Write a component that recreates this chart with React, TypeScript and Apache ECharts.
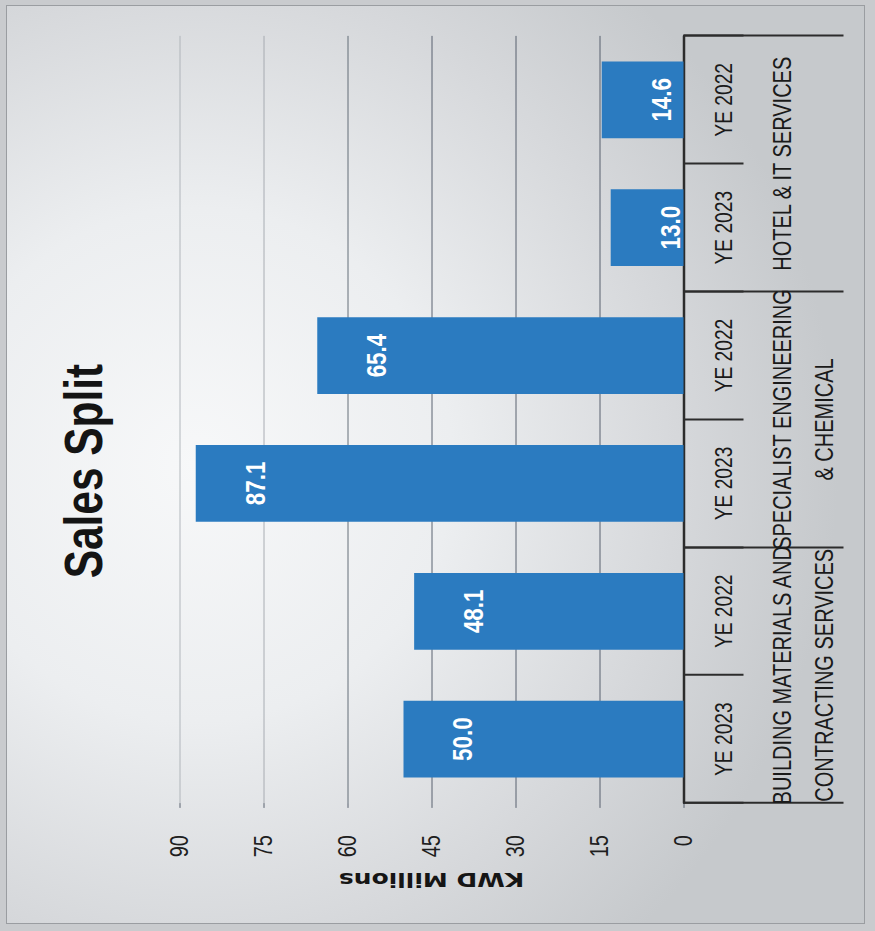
import React, { useEffect, useRef } from "react";
import * as echarts from "echarts";

const title = "Sales Split";
const yearLabels = ["YE 2023", "YE 2022", "YE 2023", "YE 2022", "YE 2023", "YE 2022"];
const groupLabels = [
  "BUILDING MATERIALS AND\nCONTRACTING SERVICES",
  "SPECIALIST ENGINEERING\n& CHEMICAL",
  "HOTEL & IT SERVICES",
];
const salesValues = [50.0, 48.1, 87.1, 65.4, 13.0, 14.6];
const axisTitle = "KWD Millions";
const valueMin = 0;
const valueMax = 90;
const valueStep = 15;

const CHART_W = 1164;
const CHART_H = 875;
const SQUEEZE = 0.8;

export default function App() {
  const ref = useRef<HTMLDivElement>(null);

  useEffect(() => {
    if (!ref.current) return;
    const chart = echarts.init(ref.current, null, { renderer: "svg" });
    const narrow = "'Liberation Sans Narrow', 'Liberation Sans', Arial, sans-serif";
    const sans = "'Liberation Sans', Arial, sans-serif";
    chart.setOption({
      animation: false,
      backgroundColor: "transparent",
      title: {
        text: title,
        left: 570,
        textAlign: "center",
        top: 52,
        textStyle: { fontFamily: sans, fontWeight: "bold", fontSize: 53, color: "#141414" },
      },
      grid: { left: 160, right: 45, top: 179, bottom: 192, containLabel: false },
      xAxis: [
        {
          type: "category",
          position: "bottom",
          data: yearLabels,
          axisLine: { show: true, lineStyle: { color: "#2c2c2c", width: 2.5 } },
          axisTick: { show: true, length: 60, lineStyle: { color: "#2c2c2c", width: 2.5 } },
          axisLabel: { interval: 0, margin: 28, fontFamily: sans, fontSize: 24, color: "#1a1a1a" },
        },
        {
          type: "category",
          position: "bottom",
          data: groupLabels,
          axisLine: { show: false },
          axisTick: { show: true, length: 160, lineStyle: { color: "#2c2c2c", width: 2.5 } },
          axisLabel: {
            interval: 0,
            margin: 78,
            fontFamily: narrow,
            fontSize: 25,
            lineHeight: 42,
            color: "#1a1a1a",
          },
        },
      ],
      yAxis: {
        type: "value",
        min: valueMin,
        max: valueMax,
        interval: valueStep,
        name: axisTitle,
        nameLocation: "middle",
        nameGap: 84,
        nameTextStyle: { fontFamily: "'DejaVu Sans', sans-serif", fontWeight: "bold", fontSize: 25, color: "#151515" },
        axisLine: { show: false },
        axisTick: { show: true, length: 6, lineStyle: { color: "#4a5462" } },
        axisLabel: { margin: 40, fontFamily: sans, fontSize: 25, color: "#1e1e1e" },
        splitLine: {
          show: true,
          lineStyle: {
            width: 1,
            color: ["#4a5462", "#4a5462", "#4a5462", "#4a5462", "#56606c", "#a0a5ac", "#aab0b6"],
          },
        },
      },
      series: [
        {
          type: "bar",
          xAxisIndex: 0,
          data: salesValues,
          barWidth: "60%",
          itemStyle: { color: "#2b7bc0" },
          label: {
            show: true,
            position: "insideTop",
            distance: 45,
            color: "#ffffff",
            fontFamily: narrow,
            fontWeight: "bold",
            fontSize: 28,
            formatter: (p: any) => Number(p.value).toFixed(1),
          },
        },
      ],
    });
    return () => chart.dispose();
  }, []);

  return (
    <div
      style={{
        position: "fixed",
        left: 0,
        top: 0,
        width: 875,
        height: 931,
        overflow: "hidden",
        background: "#c9cbce",
      }}
    >
      <div
        style={{
          position: "absolute",
          left: 6,
          top: 5,
          width: 857,
          height: 917,
          border: "1px solid #9a9da1",
          background:
            "radial-gradient(ellipse 75% 70% at 22% 50%, #f7f8f9 0%, #eceef0 40%, #d6d8db 75%, #c6c9cc 100%)",
        }}
      />
      <div
        ref={ref}
        style={{
          position: "absolute",
          left: (875 - CHART_W) / 2,
          top: (931 - CHART_H) / 2,
          width: CHART_W,
          height: CHART_H,
          transform: `rotate(-90deg) scaleX(${SQUEEZE})`,
          transformOrigin: "50% 50%",
        }}
      />
    </div>
  );
}
